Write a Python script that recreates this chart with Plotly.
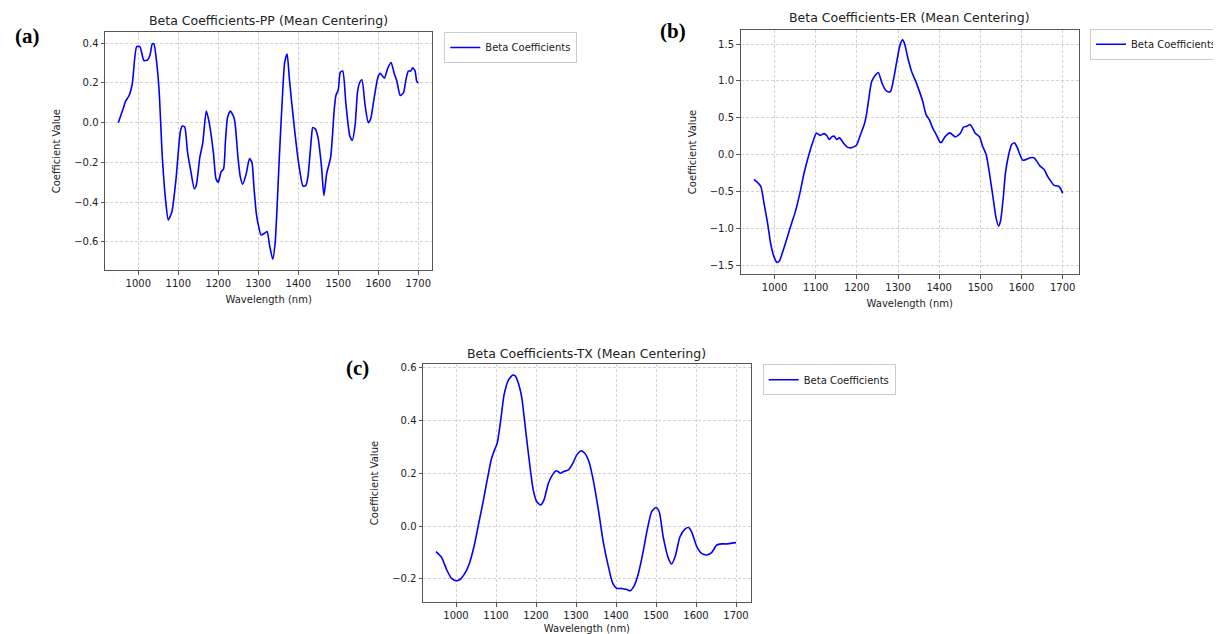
import plotly.graph_objects as go

# ---------------- data ----------------
wl_pp = [950, 962, 968, 977, 985, 996, 1004, 1014, 1023, 1029, 1035, 1039, 1045, 1052, 1060, 1069,
         1075, 1084, 1094, 1105, 1110, 1116, 1123, 1131, 1140, 1145, 1154, 1161, 1170, 1177, 1188,
         1194, 1200, 1207, 1213, 1218, 1223, 1230, 1240, 1249, 1255, 1261, 1270, 1278, 1284, 1289,
         1295, 1301, 1307, 1316, 1322, 1328, 1336, 1342, 1353, 1362, 1366, 1372, 1378, 1389, 1401,
         1412, 1419, 1424, 1433, 1436, 1442, 1449, 1458, 1464, 1471, 1481, 1490, 1494, 1500, 1505,
         1511, 1519, 1529, 1535, 1542, 1548, 1553, 1559, 1567, 1575, 1581, 1590, 1599, 1605, 1615,
         1624, 1632, 1640, 1646, 1655, 1663, 1669, 1675, 1681, 1686, 1692, 1696, 1700]
beta_pp = [0.0, 0.07, 0.107, 0.137, 0.196, 0.383, 0.383, 0.313, 0.316, 0.338, 0.397, 0.397, 0.32,
           0.162, -0.172, -0.407, -0.49, -0.449, -0.29, -0.047, -0.017, -0.022, -0.147, -0.24,
           -0.333, -0.315, -0.172, -0.105, 0.059, 0.003, -0.156, -0.281, -0.30, -0.248, -0.234,
           -0.089, 0.025, 0.059, 0.02, -0.172, -0.273, -0.31, -0.256, -0.181, -0.20, -0.323, -0.457,
           -0.524, -0.566, -0.557, -0.549, -0.616, -0.688, -0.608, -0.156, 0.196, 0.304, 0.346,
           0.213, -0.005, -0.206, -0.32, -0.316, -0.273, -0.072, -0.025, -0.03, -0.072, -0.223,
           -0.368, -0.256, -0.172, 0.07, 0.137, 0.166, 0.254, 0.26, 0.095, -0.069, -0.089, -0.013,
           0.154, 0.20, 0.216, 0.087, 0.0, 0.02, 0.129, 0.229, 0.249, 0.224, 0.276, 0.303, 0.246,
           0.213, 0.137, 0.151, 0.216, 0.26, 0.26, 0.276, 0.26, 0.209, 0.20]

wl_er = [950, 961, 967, 975, 983, 991, 998, 1006, 1012, 1022, 1032, 1042, 1050, 1061, 1072, 1083,
         1091, 1102, 1111, 1115, 1120, 1127, 1133, 1139, 1145, 1151, 1158, 1167, 1176, 1185, 1196,
         1200, 1208, 1218, 1224, 1231, 1236, 1244, 1252, 1261, 1269, 1277, 1282, 1289, 1297, 1305,
         1311, 1316, 1323, 1333, 1344, 1352, 1360, 1368, 1376, 1384, 1394, 1402, 1406, 1414, 1426,
         1439, 1451, 1459, 1467, 1475, 1481, 1487, 1498, 1506, 1514, 1522, 1532, 1538, 1544, 1549,
         1556, 1561, 1568, 1576, 1583, 1590, 1596, 1603, 1611, 1621, 1630, 1637, 1645, 1655, 1663,
         1671, 1679, 1689, 1695, 1700]
beta_er = [-0.338, -0.392, -0.437, -0.677, -0.925, -1.218, -1.376, -1.466, -1.443, -1.285, -1.105,
           -0.925, -0.789, -0.541, -0.248, -0.014, 0.135, 0.293, 0.257, 0.27, 0.284, 0.257, 0.203,
           0.239, 0.248, 0.203, 0.226, 0.158, 0.104, 0.09, 0.113, 0.135, 0.257, 0.406, 0.564, 0.834,
           0.992, 1.069, 1.114, 0.97, 0.88, 0.848, 0.857, 1.015, 1.263, 1.488, 1.556, 1.502, 1.331,
           1.128, 0.979, 0.857, 0.722, 0.541, 0.474, 0.361, 0.257, 0.167, 0.167, 0.239, 0.293,
           0.239, 0.284, 0.37, 0.383, 0.406, 0.361, 0.293, 0.239, 0.104, 0.0, -0.248, -0.631,
           -0.857, -0.97, -0.902, -0.564, -0.248, -0.023, 0.135, 0.158, 0.09, 0.0, -0.077, -0.068,
           -0.045, -0.045, -0.09, -0.158, -0.203, -0.293, -0.361, -0.419, -0.428, -0.465, -0.528]

wl_tx = [950, 964, 977, 989, 1000, 1010, 1022, 1033, 1045, 1056, 1067, 1078, 1089, 1098, 1103, 1112,
         1120, 1131, 1142, 1148, 1156, 1164, 1175, 1185, 1193, 1202, 1212, 1220, 1231, 1241, 1250,
         1256, 1262, 1268, 1281, 1292, 1302, 1312, 1322, 1333, 1343, 1356, 1368, 1381, 1392, 1402,
         1414, 1427, 1435, 1445, 1456, 1467, 1478, 1489, 1500, 1508, 1518, 1531, 1539, 1548, 1560,
         1573, 1581, 1589, 1602, 1614, 1627, 1639, 1652, 1664, 1677, 1685, 1700]
beta_tx = [-0.097, -0.119, -0.167, -0.199, -0.208, -0.203, -0.18, -0.144, -0.078, 0.004, 0.086,
           0.175, 0.257, 0.295, 0.314, 0.403, 0.497, 0.554, 0.573, 0.57, 0.542, 0.491, 0.352, 0.225,
           0.137, 0.092, 0.08, 0.099, 0.162, 0.194, 0.21, 0.206, 0.2, 0.206, 0.213, 0.238, 0.27,
           0.285, 0.276, 0.241, 0.175, 0.061, -0.059, -0.154, -0.218, -0.237, -0.237, -0.241, -0.246,
           -0.228, -0.18, -0.104, -0.015, 0.054, 0.07, 0.054, -0.041, -0.123, -0.144, -0.116, -0.041,
           -0.011, -0.006, -0.022, -0.078, -0.104, -0.11, -0.101, -0.072, -0.068, -0.068, -0.066,
           -0.063]

titles = ["Beta Coefficients-PP (Mean Centering)",
          "Beta Coefficients-ER (Mean Centering)",
          "Beta Coefficients-TX (Mean Centering)"]
panel_labels = ["(a)", "(b)", "(c)"]
x_ticks = [1000, 1100, 1200, 1300, 1400, 1500, 1600, 1700]
y_ticks_pp = [-0.6, -0.4, -0.2, 0.0, 0.2, 0.4]
y_ticks_er = [-1.5, -1.0, -0.5, 0.0, 0.5, 1.0, 1.5]
y_ticks_tx = [-0.2, 0.0, 0.2, 0.4, 0.6]
series_name = "Beta Coefficients"
x_title = "Wavelength (nm)"
y_title = "Coefficient Value"

# ---------------- layout geometry (window pixels) ----------------
W, H = 1221, 634
OFF = 8                      # default page-body margin around the plot div
FW, FH = W - OFF, H - OFF    # figure size so that it ends at the window edge
def px(x):
    return (x - OFF) / FW
def py(y):
    return 1 - (y - OFF) / FH

# (left, right, top, bottom) window-pixel boxes of the three plot areas
boxes = [(105, 432.3, 32.3, 270), (740.5, 1079, 30, 274), (423, 750.7, 364, 602)]
x_ranges = [[916.75, 1735], [917.4, 1739.6], [917.5, 1736.75]]
y_ranges = [[-0.7426, 0.4554], [-1.622, 1.69], [-0.2885, 0.615]]
legend_pos = [(444.3, 47.5), (1090, 44.3), (762.7, 379.7)]   # left edge, vertical centre
label_pos = [(27, 36), (673, 31), (357, 368)]
title_y = [20, 17, 353]

FONT = "DejaVu Sans, Liberation Sans, sans-serif"
BLUE = "#0000ff"

fig = go.Figure()
datasets = [(wl_pp, beta_pp), (wl_er, beta_er), (wl_tx, beta_tx)]
ytick_sets = [y_ticks_pp, y_ticks_er, y_ticks_tx]
legend_ids = ["legend", "legend2", "legend3"]

for i, (xs, ys) in enumerate(datasets):
    sfx = "" if i == 0 else str(i + 1)
    fig.add_trace(go.Scatter(
        x=xs, y=ys, mode="lines", name=series_name,
        line=dict(color=BLUE, width=1.6, shape="spline", smoothing=0.6),
        xaxis="x" + sfx, yaxis="y" + sfx, legend=legend_ids[i], showlegend=True,
    ))

layout = dict(
    width=FW, height=FH,
    margin=dict(l=0, r=0, t=0, b=0, autoexpand=False),
    paper_bgcolor="white", plot_bgcolor="white",
    font=dict(family=FONT, size=10, color="#222"),
    annotations=[],
)

axis_common = dict(
    showline=True, mirror=True, linecolor="#555", linewidth=1,
    ticks="outside", ticklen=3.5, tickwidth=1, tickcolor="#555",
    showgrid=True, gridcolor="#d3d3d3", gridwidth=0.7, griddash="3px,2px",
    zeroline=False, tickfont=dict(family=FONT, size=10, color="#222"),
    automargin=False,
)

for i in range(3):
    sfx = "" if i == 0 else str(i + 1)
    l, r, t, b = boxes[i]
    xa = dict(axis_common)
    xa.update(domain=[px(l), px(r)], range=x_ranges[i], tickvals=x_ticks,
              anchor="y" + sfx,
              title=dict(text=x_title, font=dict(family=FONT, size=10, color="#222"), standoff=8))
    ya = dict(axis_common)
    ya.update(domain=[py(b), py(t)], range=y_ranges[i], tickvals=ytick_sets[i], tickformat=".1f",
              anchor="x" + sfx,
              title=dict(text=y_title, font=dict(family=FONT, size=10, color="#222"), standoff=11))
    layout["xaxis" + sfx] = xa
    layout["yaxis" + sfx] = ya

    lx, ly = legend_pos[i]
    layout[legend_ids[i]] = dict(
        x=px(lx), y=py(ly), xanchor="left", yanchor="middle",
        bgcolor="white", bordercolor="#cccccc", borderwidth=1,
        font=dict(family=FONT, size=10, color="#222"),
        itemwidth=30, tracegroupgap=0,
    )

    layout["annotations"].append(dict(
        text=titles[i], x=px((l + r) / 2), y=py(title_y[i]), xref="paper", yref="paper",
        xanchor="center", yanchor="middle", showarrow=False,
        font=dict(family=FONT, size=12.5, color="#222"),
    ))
    lbx, lby = label_pos[i]
    layout["annotations"].append(dict(
        text="<b>" + panel_labels[i] + "</b>", x=px(lbx), y=py(lby), xref="paper", yref="paper",
        xanchor="center", yanchor="middle", showarrow=False,
        font=dict(family="Liberation Serif, Times New Roman, serif", size=21, color="black"),
    ))

fig.update_layout(**layout)
fig.write_html("out.html")
